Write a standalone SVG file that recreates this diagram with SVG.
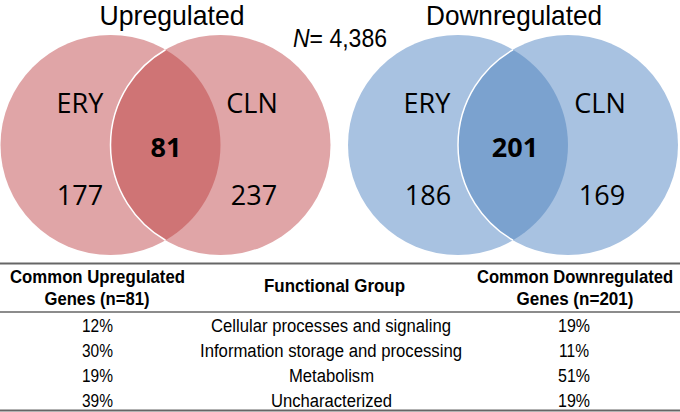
<svg xmlns="http://www.w3.org/2000/svg" width="680" height="412" viewBox="0 0 680 412">
<style>
.bg{fill:#ffffff}
.upc{fill:#e0a5a7}
.upl{fill:#cf7475}
.dnc{fill:#a8c2e1}
.dnl{fill:#7ba2cf}
.edge{fill:none;stroke:#ffffff;stroke-width:1.5}
.title{font-family:"Liberation Sans",Arial,sans-serif;font-size:28px;fill:#000;text-anchor:middle}
.vl{font-family:"Open Sans","Liberation Sans",sans-serif;font-size:27px;fill:#000;text-anchor:middle}
.vb{font-family:"Open Sans","Liberation Sans",sans-serif;font-size:27px;font-weight:bold;fill:#000;text-anchor:middle}
.th{font-family:"Liberation Sans",Arial,sans-serif;font-size:19px;font-weight:bold;fill:#000;text-anchor:middle}
.td{font-family:"Liberation Sans",Arial,sans-serif;font-size:18px;fill:#000;text-anchor:middle}
.rule{stroke:#666;fill:none}
</style>
<rect class="bg" x="0" y="0" width="680" height="412"/>

<g id="upregulated">
  <text class="title" x="172" y="25" textLength="145" lengthAdjust="spacingAndGlyphs">Upregulated</text>
  <g id="up-ery">
    <circle class="upc" cx="110.5" cy="145" r="110"/>
  </g>
  <g id="up-cln">
    <circle class="upc" cx="220.5" cy="145" r="110"/>
  </g>
  <g id="up-common">
    <path class="upl" d="M165.5 49.74 A110 110 0 0 0 165.5 240.26 A110 110 0 0 0 165.5 49.74 Z"/>
    <path class="edge" d="M165.5 49.74 A110 110 0 0 0 165.5 240.26"/>
  </g>
  <text class="vl" x="80" y="113">ERY</text>
  <text class="vl" x="252" y="113">CLN</text>
  <text class="vb" x="166" y="157">81</text>
  <text class="vl" x="80" y="205">177</text>
  <text class="vl" x="254" y="205">237</text>
</g>

<text id="n-label" class="title" x="340" y="47" style="font-size:26px" textLength="94" lengthAdjust="spacingAndGlyphs"><tspan font-style="italic">N</tspan>= 4,386</text>

<g id="downregulated">
  <text class="title" x="514" y="25" textLength="176" lengthAdjust="spacingAndGlyphs">Downregulated</text>
  <g id="down-ery">
    <circle class="dnc" cx="458" cy="145" r="110"/>
  </g>
  <g id="down-cln">
    <circle class="dnc" cx="568" cy="145" r="110"/>
  </g>
  <g id="down-common">
    <path class="dnl" d="M513 49.74 A110 110 0 0 0 513 240.26 A110 110 0 0 0 513 49.74 Z"/>
    <path class="edge" d="M513 49.74 A110 110 0 0 0 513 240.26"/>
  </g>
  <text class="vl" x="427" y="113">ERY</text>
  <text class="vl" x="600" y="113">CLN</text>
  <text class="vb" x="515" y="157">201</text>
  <text class="vl" x="428" y="205">186</text>
  <text class="vl" x="602" y="205">169</text>
</g>

<g id="table">
  <line class="rule" x1="0" y1="263.5" x2="680" y2="263.5" stroke-width="2"/>
  <line class="rule" x1="0" y1="312" x2="680" y2="312" stroke-width="1.5"/>
  <line class="rule" x1="0" y1="410.5" x2="680" y2="410.5" stroke-width="2"/>

  <text class="th" x="97.5" y="283" textLength="175" lengthAdjust="spacingAndGlyphs">Common Upregulated</text>
  <text class="th" x="97" y="305" textLength="105" lengthAdjust="spacingAndGlyphs">Genes (n=81)</text>
  <text class="th" x="334.5" y="292" textLength="141" lengthAdjust="spacingAndGlyphs">Functional Group</text>
  <text class="th" x="575" y="283" textLength="196" lengthAdjust="spacingAndGlyphs">Common Downregulated</text>
  <text class="th" x="575" y="305" textLength="117" lengthAdjust="spacingAndGlyphs">Genes (n=201)</text>

  <text class="td" x="97.5" y="332" textLength="31" lengthAdjust="spacingAndGlyphs">12%</text>
  <text class="td" x="331" y="332" textLength="240" lengthAdjust="spacingAndGlyphs">Cellular processes and signaling</text>
  <text class="td" x="574" y="332" textLength="32" lengthAdjust="spacingAndGlyphs">19%</text>

  <text class="td" x="97.5" y="357" textLength="31" lengthAdjust="spacingAndGlyphs">30%</text>
  <text class="td" x="331" y="357" textLength="262" lengthAdjust="spacingAndGlyphs">Information storage and processing</text>
  <text class="td" x="574" y="357" textLength="30" lengthAdjust="spacingAndGlyphs">11%</text>

  <text class="td" x="97.5" y="382" textLength="31" lengthAdjust="spacingAndGlyphs">19%</text>
  <text class="td" x="331.5" y="382" textLength="85" lengthAdjust="spacingAndGlyphs">Metabolism</text>
  <text class="td" x="574" y="382" textLength="32" lengthAdjust="spacingAndGlyphs">51%</text>

  <text class="td" x="97.5" y="407" textLength="31" lengthAdjust="spacingAndGlyphs">39%</text>
  <text class="td" x="331.5" y="407" textLength="121" lengthAdjust="spacingAndGlyphs">Uncharacterized</text>
  <text class="td" x="574" y="407" textLength="32" lengthAdjust="spacingAndGlyphs">19%</text>
</g>
</svg>
